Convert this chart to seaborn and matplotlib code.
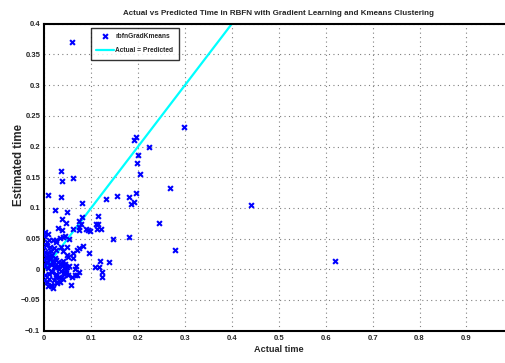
import matplotlib
matplotlib.use("Agg")
import matplotlib.pyplot as plt
import seaborn as sns
import pandas as pd
import numpy as np

# Actual time (x) and estimated time (y)
actual = [0.059, 0.298, 0.440, 0.620, 0.279,
          0.191, 0.196, 0.224, 0.199, 0.197, 0.204,
          0.035, 0.038, 0.061, 0.269, 0.007, 0.035, 0.080, 0.132, 0.154,
          0.181, 0.195, 0.185, 0.192, 0.022, 0.048, 0.080, 0.115, 0.037,
          0.245, 0.073, 0.046, 0.001, 0.030, 0.038, 0.062, 0.075, 0.075,
          0.088, 0.094, 0.097, 0.110, 0.113, 0.120, 0.078, 0.115, 0.147,
          0.181, 0.000, 0.011, 0.019, 0.026, 0.033, 0.040, 0.044, 0.053,
          0.012, 0.021, 0.026, 0.035, 0.040, 0.049, 0.075, 0.083, 0.070,
          0.096, 0.048, 0.061, 0.061, 0.051, 0.005, 0.012, 0.019, 0.119,
          0.109, 0.117, 0.139, 0.122, 0.123, 0.067, 0.065, 0.075, 0.070,
          0.065, 0.059, 0.056,
          # dense cluster near origin
          0.000, 0.002, 0.004, 0.006, 0.008, 0.010, 0.012, 0.014, 0.016,
          0.018, 0.020, 0.022, 0.024, 0.026, 0.028, 0.030, 0.032, 0.034,
          0.036, 0.038, 0.040, 0.042, 0.044, 0.046, 0.048, 0.050, 0.052,
          0.003, 0.007, 0.011, 0.015, 0.019, 0.023, 0.027, 0.031, 0.035,
          0.039, 0.043, 0.047, 0.000, 0.005, 0.009, 0.013, 0.017, 0.021,
          0.025, 0.029, 0.033, 0.037, 0.041, 0.001, 0.006, 0.014, 0.024,
          0.000, 0.004, 0.008, 0.016]
estimated = [0.371, 0.232, 0.105, 0.014, 0.032,
             0.210, 0.216, 0.199, 0.186, 0.173, 0.156,
             0.160, 0.143, 0.149, 0.132, 0.121, 0.117, 0.108, 0.114, 0.119,
             0.118, 0.125, 0.107, 0.109, 0.096, 0.093, 0.085, 0.086, 0.082,
             0.076, 0.079, 0.075, 0.060, 0.067, 0.064, 0.066, 0.069, 0.064,
             0.066, 0.064, 0.062, 0.073, 0.066, 0.066, 0.073, 0.073, 0.050,
             0.053, 0.037, 0.048, 0.048, 0.048, 0.051, 0.052, 0.054, 0.050,
             0.037, 0.035, 0.032, 0.037, 0.029, 0.037, 0.034, 0.038, 0.031,
             0.026, 0.024, 0.027, 0.019, 0.020, 0.018, 0.017, 0.013, 0.013,
             0.003, 0.004, 0.012, -0.005, -0.012, 0.006, 0.000, -0.004, -0.009,
             -0.009, -0.012, -0.025,
             0.005, -0.010, 0.012, -0.020, 0.002, -0.015, 0.008, -0.025, -0.005,
             0.010, -0.018, 0.004, -0.008, 0.015, -0.022, 0.006, -0.012, 0.009,
             -0.003, 0.011, -0.016, 0.002, 0.008, -0.006, 0.003, -0.010, 0.006,
             0.020, -0.028, 0.022, -0.002, -0.030, 0.018, -0.020, 0.000, -0.014,
             0.014, -0.007, -0.002, -0.018, 0.026, -0.008, 0.016, -0.027, 0.004,
             -0.011, 0.012, -0.020, 0.007, -0.004, 0.028, 0.045, 0.030, 0.044,
             0.055, 0.040, 0.058, 0.024]

line_x = [0.0, 1.0]
line_y = [0.0, 1.0]

xticks = [0, 0.1, 0.2, 0.3, 0.4, 0.5, 0.6, 0.7, 0.8, 0.9]
xtick_labels = ["0", "0.1", "0.2", "0.3", "0.4", "0.5", "0.6", "0.7", "0.8", "0.9"]
yticks = [-0.1, -0.05, 0, 0.05, 0.1, 0.15, 0.2, 0.25, 0.3, 0.35, 0.4]
ytick_labels = ["\u22120.1", "\u22120.05", "0", "0.05", "0.1", "0.15", "0.2",
                "0.25", "0.3", "0.35", "0.4"]

sns.set_style("white")
plt.rcParams['font.family'] = ['Liberation Sans', 'DejaVu Sans']

df = pd.DataFrame({"actual": actual, "estimated": estimated})
ldf = pd.DataFrame({"x": line_x, "y": line_y})

fig = plt.figure(figsize=(5.05, 3.63), dpi=100)
ax = fig.add_axes([44.3 / 505, 32.3 / 363, 469 / 505, 307 / 363])

sns.scatterplot(data=df, x="actual", y="estimated", marker="x", color="#0000ff",
                s=12, linewidth=1.5, ax=ax, label="rbfnGradKmeans", zorder=3)
sns.lineplot(data=ldf, x="x", y="y", color="#00ffff", linewidth=1.6, ax=ax,
             label="Actual = Predicted", zorder=2)

ax.set_xlim(0, 1)
ax.set_ylim(-0.1, 0.4)
ax.set_xticks(xticks)
ax.set_xticklabels(xtick_labels, fontsize=5.5, fontweight="bold")
ax.set_yticks(yticks)
ax.set_yticklabels(ytick_labels, fontsize=5.5, fontweight="bold")
ax.tick_params(direction="in", length=4, width=1, pad=3)
ax.grid(True, linestyle=(0, (1, 3)), color="#808080", linewidth=0.8)

for sp in ax.spines.values():
    sp.set_color("black")
    sp.set_linewidth(1.5)

ax.set_title("Actual vs Predicted Time in RBFN with Gradient Learning and Kmeans Clustering",
             fontsize=5.8, fontweight="bold", pad=6, x=(278.5 - 44.3) / 469)
ax.set_xlabel("Actual time", fontsize=6.6, fontweight="bold")
ax.xaxis.set_label_coords((278.5 - 44.3) / 469, -(345 - 330.7) / 307)
ax.set_ylabel("Estimated time", fontsize=8.3, fontweight="bold")
ax.yaxis.set_label_coords(-(44.3 - 25) / 469, (331 - 165) / 307)

leg = ax.legend(loc="upper left", bbox_to_anchor=(0.099, 0.987), borderaxespad=0,
                frameon=True, fancybox=False, prop={"size": 4.8, "weight": "bold"},
                handlelength=2.7, borderpad=0.8, labelspacing=1.1, handletextpad=0.2)
leg.get_frame().set_edgecolor("black")
leg.get_frame().set_linewidth(1.0)

fig.savefig("out.png", dpi=100)
